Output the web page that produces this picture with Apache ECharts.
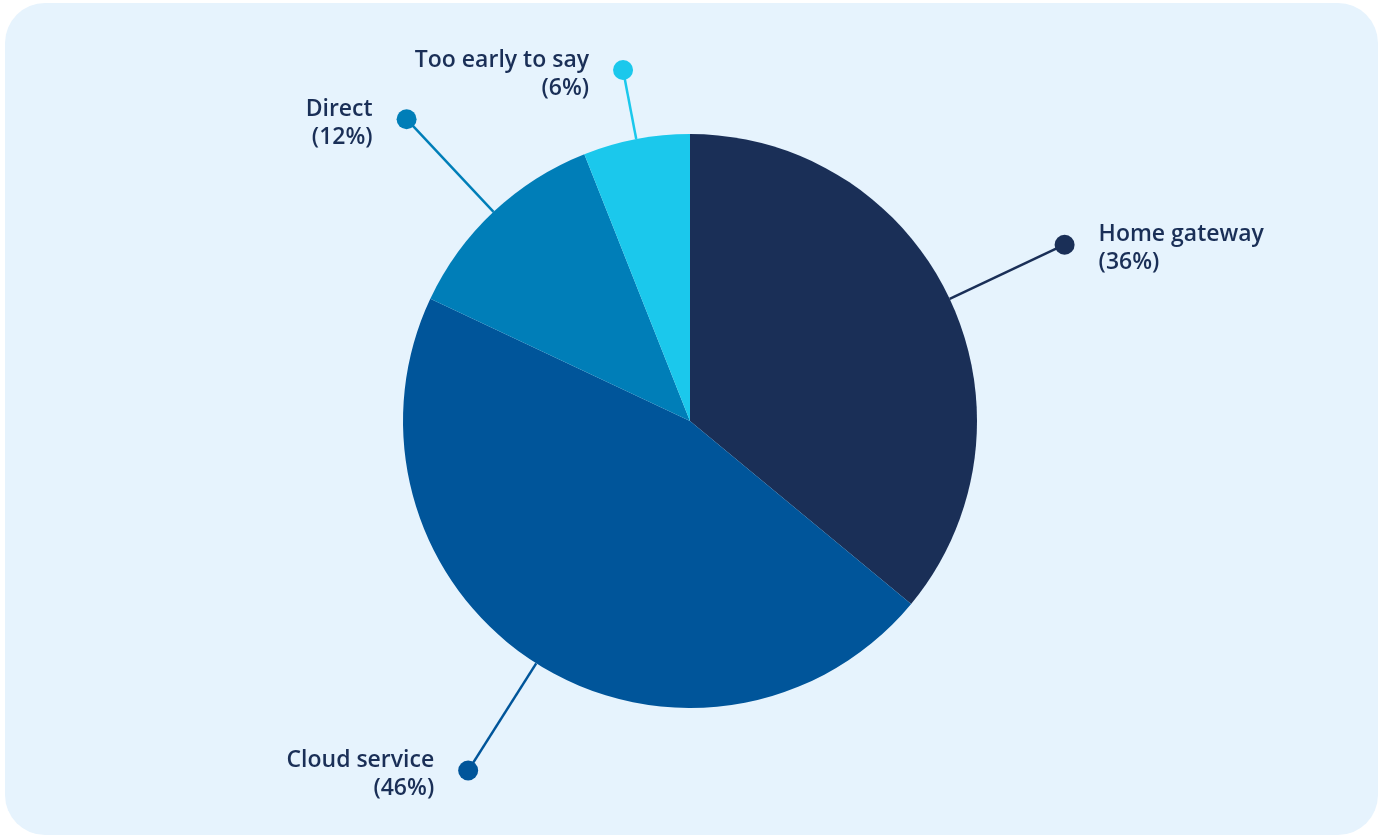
<!DOCTYPE html>
<html>
<head>
<meta charset="utf-8">
<title>Connection type</title>
<script src="https://cdn.jsdelivr.net/npm/echarts@6/dist/echarts.min.js"></script>
<style>
  html, body { margin: 0; padding: 0; background: #ffffff; }
  #chart { width: 1383px; height: 837px; }
</style>
</head>
<body>
<div id="chart"></div>
<script>
// Share of answers per connection type
const categories = ['Home gateway', 'Cloud service', 'Direct', 'Too early to say'];
const shares = [36, 46, 12, 6];
const sliceColors = ['#1a2f57', '#00559a', '#007eb8', '#1bc8ec'];

const TEXT_COLOR = '#1a2f57';
const FONT = '"Open Sans", "Noto Sans", sans-serif';

const chart = echarts.init(document.getElementById('chart'), null, { renderer: 'canvas' });

const panel = {
  id: 'panel',
  type: 'rect',
  z: -10,
  silent: true,
  shape: { x: 5, y: 3, width: 1373, height: 832, r: 40 },
  style: { fill: '#e6f3fd' }
};

chart.setOption({
  animation: false,
  backgroundColor: '#ffffff',
  graphic: [panel],
  series: [{
    type: 'pie',
    center: [690, 421],
    radius: 287,
    startAngle: 90,
    clockwise: true,
    label: { show: false },
    labelLine: { show: false },
    emphasis: { disabled: true },
    itemStyle: { borderWidth: 0 },
    data: categories.map((name, i) => ({
      name,
      value: shares[i],
      itemStyle: { color: sliceColors[i] }
    }))
  }]
});

// Leader lines with an end dot and a two-line caption, placed from the pie layout
const data = chart.getModel().getSeriesByIndex(0).getData();
const callouts = [];
const OUTER = 414;   // distance of the end dot from the centre
const TOP_LIMIT = 70;
const GAP = 34;      // space between dot and caption

categories.forEach((name, i) => {
  const lay = data.getItemLayout(i);
  const mid = (lay.startAngle + lay.endAngle) / 2;
  const dx = Math.cos(mid), dy = Math.sin(mid);
  let rEnd = OUTER;
  if (lay.cy + rEnd * dy < TOP_LIMIT) rEnd = (TOP_LIMIT - lay.cy) / dy;
  const sx = lay.cx + lay.r * dx, sy = lay.cy + lay.r * dy;
  const ex = lay.cx + rEnd * dx, ey = lay.cy + rEnd * dy;
  const right = dx >= 0;
  const color = sliceColors[i];

  callouts.push({
    type: 'line', silent: true, z: 5,
    shape: { x1: sx, y1: sy, x2: ex, y2: ey },
    style: { stroke: color, lineWidth: 2.5 }
  });
  callouts.push({
    type: 'circle', silent: true, z: 6,
    shape: { cx: ex, cy: ey, r: 10 },
    style: { fill: color }
  });
  callouts.push({
    type: 'text', silent: true, z: 6,
    x: right ? ex + GAP : ex - GAP,
    y: ey + 4,
    style: {
      text: name + '\n(' + shares[i] + '%)',
      fill: TEXT_COLOR,
      font: '600 23px ' + FONT,
      lineHeight: 28,
      align: right ? 'left' : 'right',
      verticalAlign: 'middle'
    }
  });
});

chart.setOption({
  graphic: [panel].concat(callouts)
}, { replaceMerge: ['graphic'] });
</script>
</body>
</html>
